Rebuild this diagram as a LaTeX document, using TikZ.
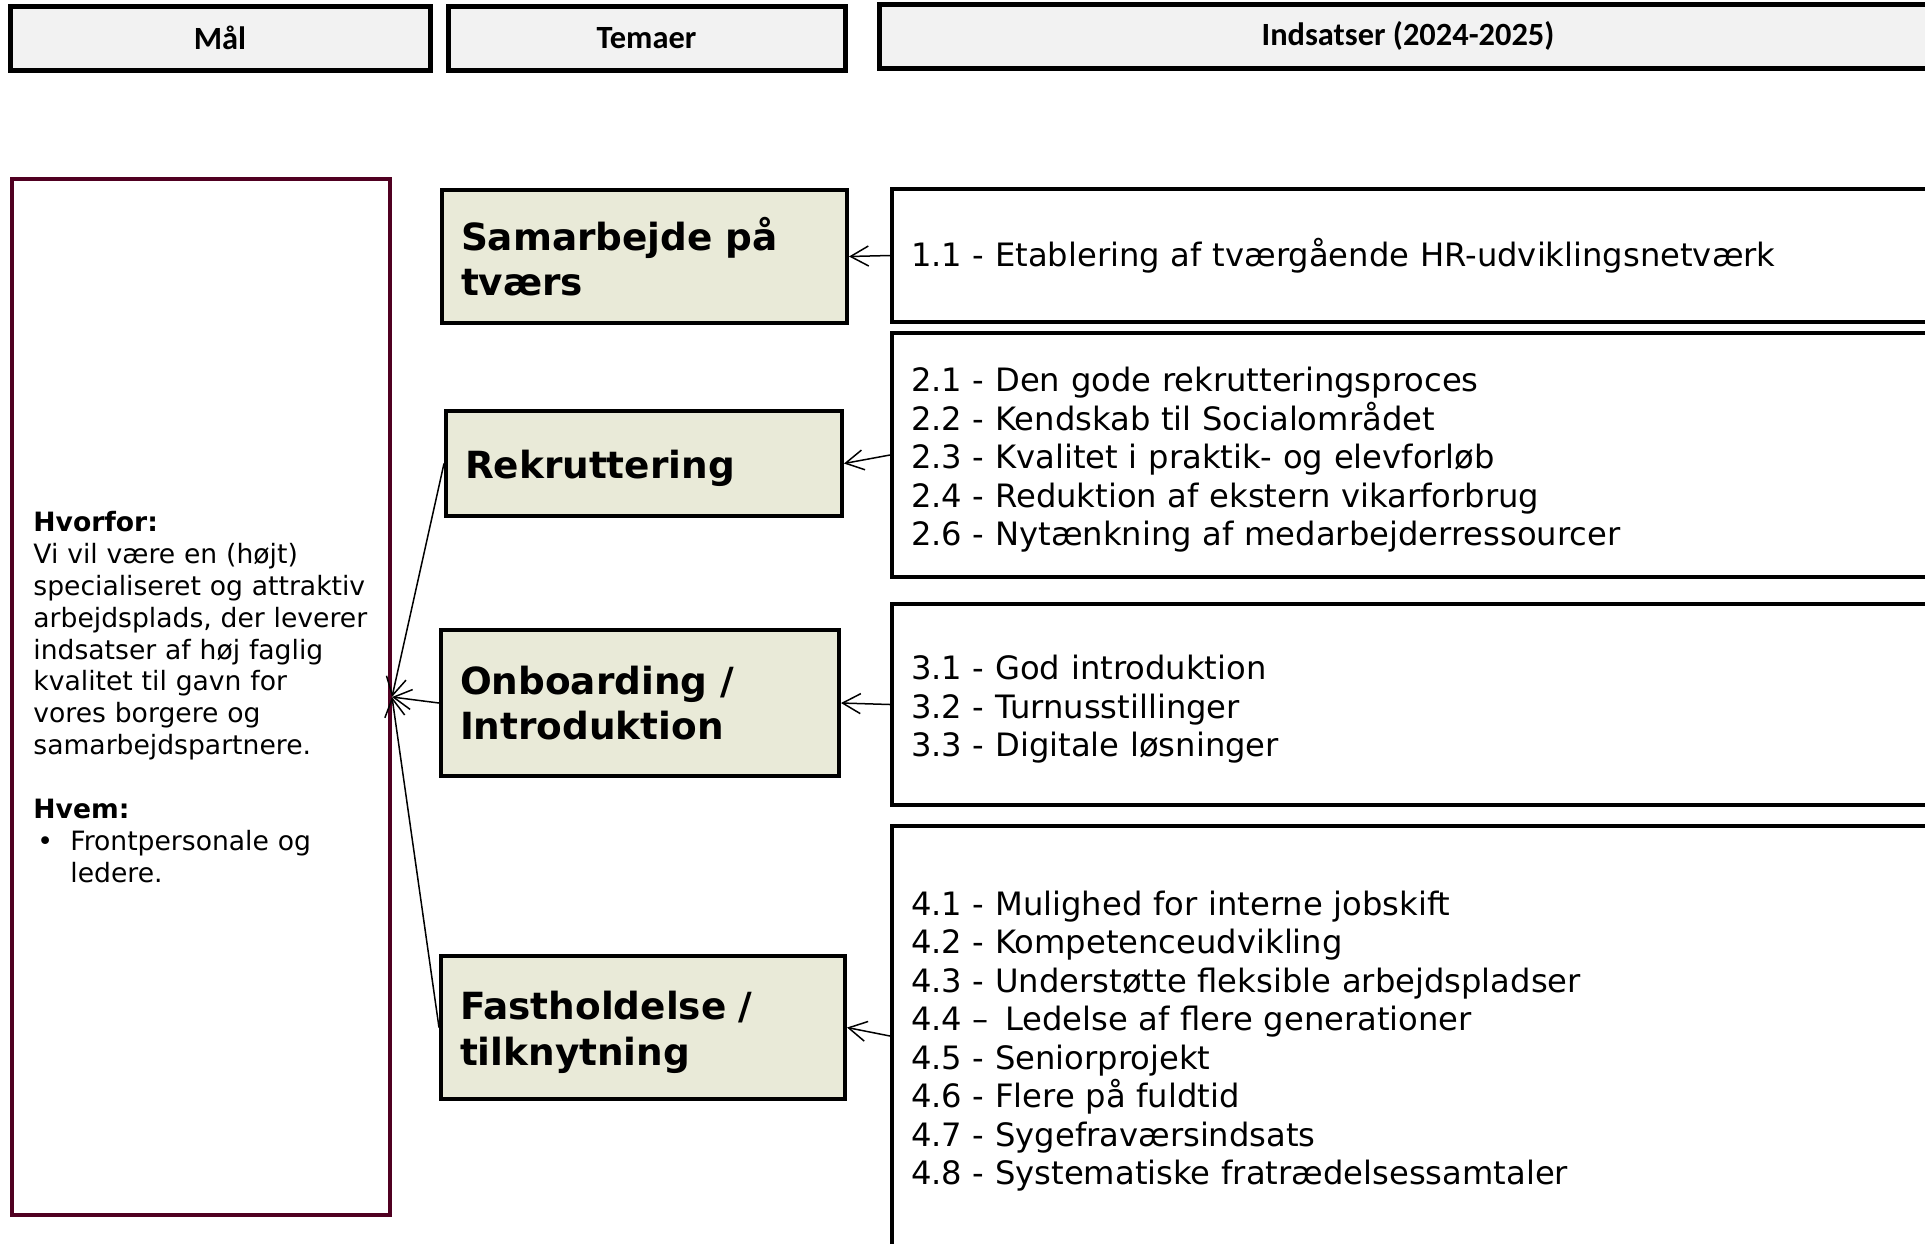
\documentclass[tikz,border=0pt]{standalone}
\usepackage{fontspec}
\setmainfont{DejaVu Sans}
\newfontfamily\headfont{Carlito}
\usetikzlibrary{arrows.meta}
\definecolor{headgray}{HTML}{F2F2F2}
\definecolor{temafill}{HTML}{E9EAD8}
\definecolor{goalred}{HTML}{500021}
\newcommand{\luft}[1]{\rule{0pt}{#1}}
\tikzset{head/.style = {draw, line width=2.5pt, fill=headgray, minimum height=32pt,
                        font=\headfont\bfseries\fontsize{16.2}{19}\selectfont}}
\tikzset{tema/.style = {draw, line width=2pt, fill=temafill, text width=#1, inner xsep=9.5pt,
                        align=left, font=\bfseries\fontsize{18.7}{22.7}\selectfont}}
\tikzset{indsats/.style = {draw, line width=2pt, anchor=west, minimum width=530pt, text width=511pt,
                           inner xsep=9.3pt, align=left, font=\fontsize{16.1}{19.25}\selectfont}}
\tikzset{pil/.style = {-{Straight Barb[length=9pt,width=10pt]}, line width=0.75pt}}

\begin{document}
\begin{tikzpicture}[x=0.5pt, y=-0.5pt]
    \useasboundingbox (0, 0) rectangle (1925, 1243);
    \node [head, minimum width=210pt] (hmaal) at (220, 38) {Mål};
    \node [head, minimum width=198.5pt] (htema) at (646.5, 38) {Temaer};
    \node [head, minimum width=529pt] (hinds) at (1408, 36) {Indsatser (2024-2025)};
    \node [draw=goalred, line width=2pt, minimum width=189pt, minimum height=518pt, text width=175pt,
           inner xsep=7pt, align=left, font=\fontsize{13.3}{15.95}\selectfont] (maal) at (201, 697)
          {\leftskip=3.7pt\textbf{Hvorfor:}\\Vi vil være en (højt)\\specialiseret og attraktiv\\arbejdsplads, der leverer\\indsatser af høj faglig\\kvalitet til gavn for\\vores borgere og\\samarbejdspartnere.\\[15.95pt]\textbf{Hvem:}\\\makebox[18.5pt][l]{\hspace{2pt}•}Frontpersonale og\\\makebox[18.5pt][l]{}ledere.\par};
    \node [tema=183.5pt, minimum height=66.5pt] (tema1) at (644.5, 256.5) {Samarbejde på\\tværs};
    \node [tema=179pt, minimum height=52.5pt] (tema2) at (644, 463.5) {\luft{19pt}Rekruttering};
    \node [tema=180pt, minimum height=73pt] (tema3) at (640, 703) {Onboarding /\\Introduktion};
    \node [tema=183pt, minimum height=71.5pt] (tema4) at (643, 1027.5) {\luft{19pt}Fastholdelse /\\tilknytning};
    \node [indsats, minimum height=66.5pt] (ind1) at (890, 255.5) {1.1 - Etablering af tværgående HR-udviklingsnetværk};
    \node [indsats, minimum height=122pt] (ind2) at (890, 455)
          {\luft{17.3pt}2.1 - Den gode rekrutteringsproces\\2.2 - Kendskab til Socialområdet\\2.3 - Kvalitet i praktik- og elevforløb\\2.4 - Reduktion af ekstern vikarforbrug\\2.6 - Nytænkning af medarbejderressourcer};
    \node [indsats, minimum height=100.5pt] (ind3) at (890, 704.5)
          {\luft{17.3pt}3.1 - God introduktion\\3.2 - Turnusstillinger\\3.3 - Digitale løsninger};
    \node [indsats, minimum height=210pt] (ind4) at (890, 1036)
          {\luft{17.3pt}4.1 - Mulighed for interne jobskift\\4.2 - Kompetenceudvikling\\4.3 - Understøtte fleksible arbejdspladser\\4.4 – \,Ledelse af flere generationer\\4.5 - Seniorprojekt\\4.6 - Flere på fuldtid\\4.7 - Sygefraværsindsats\\4.8 - Systematiske fratrædelsessamtaler};
    \draw [pil] (ind1.west) -- (tema1.east);
    \draw [pil] (ind2.west) -- (tema2.east);
    \draw [pil] (ind3.west) -- (tema3.east);
    \draw [pil] (ind4.west) -- (tema4.east);
    \draw [pil] (tema2.west) -- (maal.east);
    \draw [pil] (tema3.west) -- (maal.east);
    \draw [pil] (tema4.west) -- (maal.east);
\end{tikzpicture}
\end{document}
